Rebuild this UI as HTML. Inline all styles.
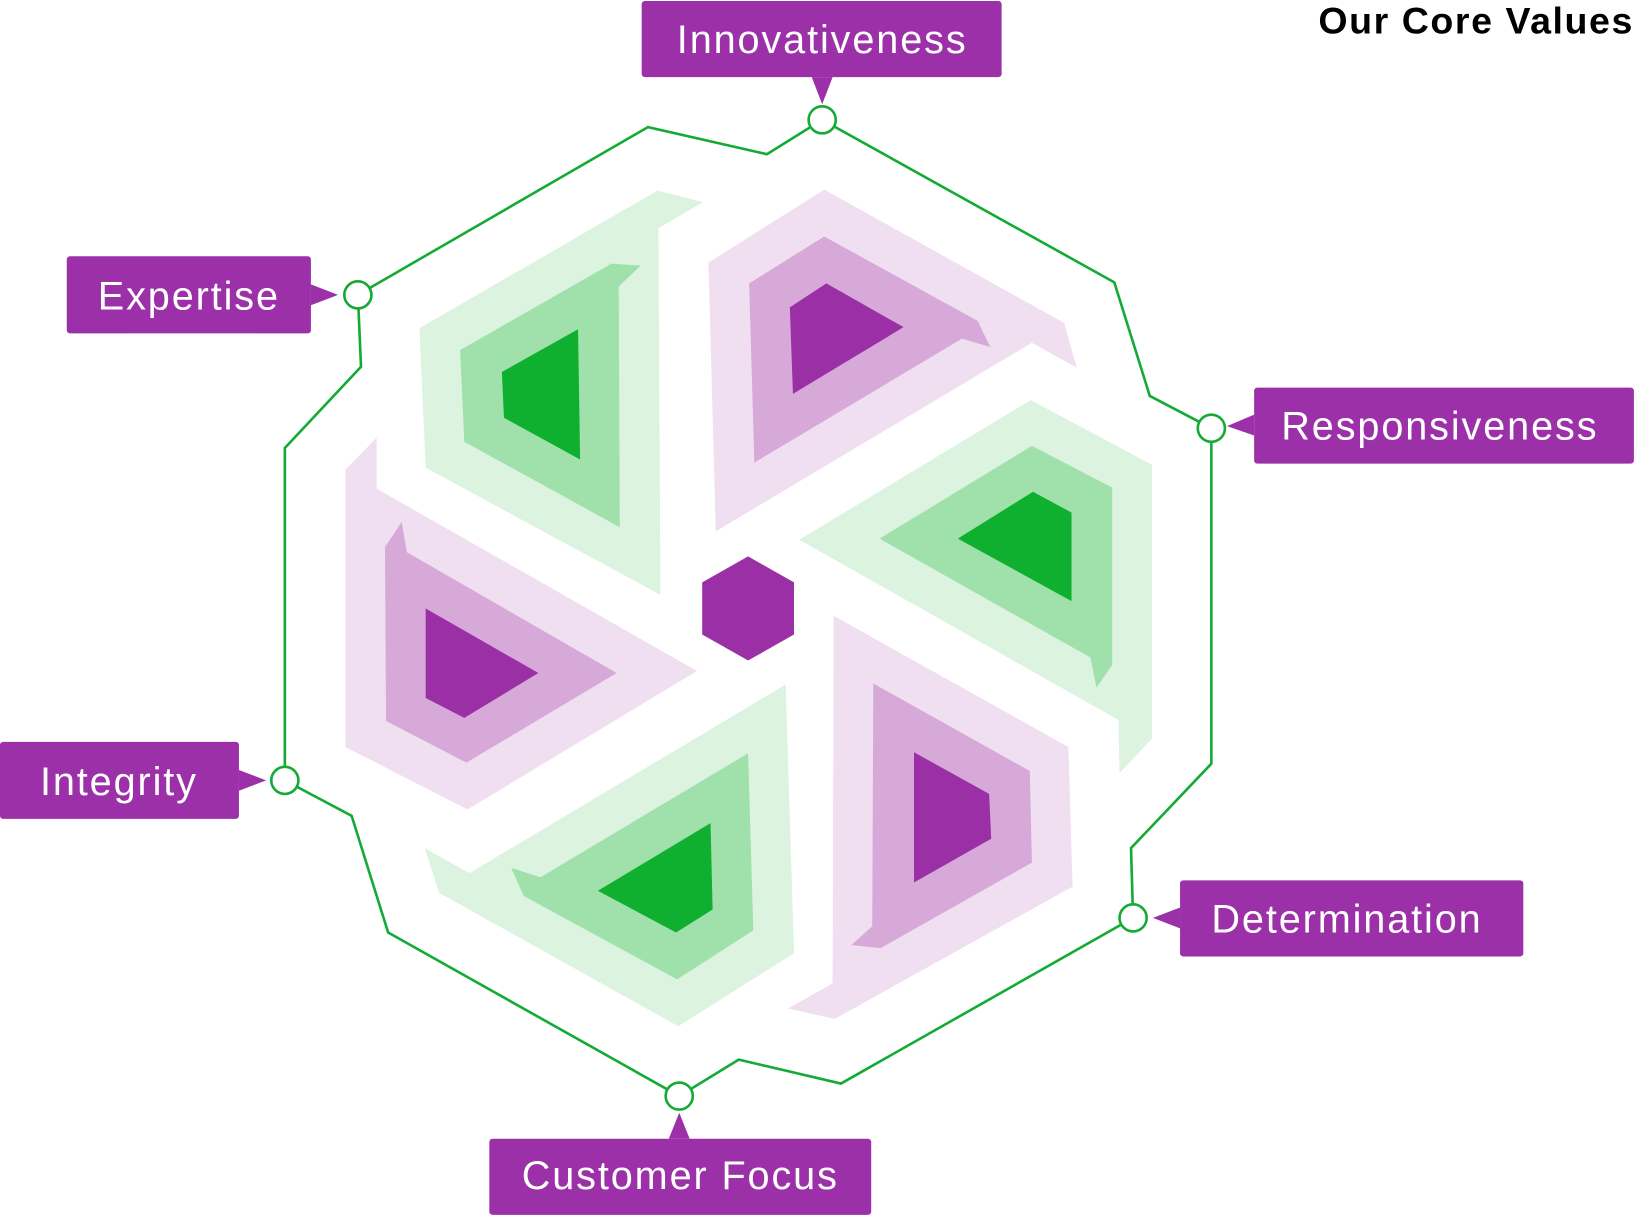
<!DOCTYPE html>
<html><head><meta charset="utf-8"><style>
html,body{margin:0;padding:0;background:#fff;}
svg{display:block;}
text{font-family:"Liberation Sans",sans-serif;}
</style></head><body>
<svg width="1636" height="1219" viewBox="0 0 1568 1170" preserveAspectRatio="none" xmlns="http://www.w3.org/2000/svg">
<rect width="1568" height="1170" fill="#fff"/>
<polygon points="630,183 674,194 631,219 633,571 408,449 402,315" fill="#dcf3e0"/>
<polygon points="586,253 614,255 593,275 594,506 445,424 441,336" fill="#a0e0aa"/>
<polygon points="554,316 556,441 483,401 481,357" fill="#0fb030"/>
<polygon points="679,252 790,182 1020,310 1032,353 989,329 686,510" fill="#f0dff0"/>
<polygon points="718,272 790,227 937,308 949,333 922,325 723,444" fill="#d6a9d8"/>
<polygon points="757,295 792,272 866,314 760,378" fill="#9b2fa6"/>
<polygon points="766,518 988,384 1104,446 1104,709 1073,742 1072,691" fill="#dcf3e0"/>
<polygon points="843,517 989,428 1066,468 1066,638 1051,660 1045,631" fill="#a0e0aa"/>
<polygon points="918,517 990,472 1027,492 1027,577" fill="#0fb030"/>
<polygon points="799,591 1024,717 1028,851 800,978 755,968 798,944" fill="#f0dff0"/>
<polygon points="837,656 987,740 989,828 844,910 816,907 836,889" fill="#d6a9d8"/>
<polygon points="876,722 948,762 950,805 876,847" fill="#9b2fa6"/>
<polygon points="753,657 761,915 650,985 421,857 407,814 450,838" fill="#dcf3e0"/>
<polygon points="717,723 722,893 649,940 502,860 490,833 518,842" fill="#a0e0aa"/>
<polygon points="681,790 683,873 648,895 573,855" fill="#0fb030"/>
<polygon points="361,420 361,469 668,644 448,777 331,717 331,451" fill="#f0dff0"/>
<polygon points="385,501 390,530 591,646 447,732 370,692 369,525" fill="#d6a9d8"/>
<polygon points="408,584 516,646 445,689 408,670" fill="#9b2fa6"/>
<polygon points="717,534 761,559 761,609 717,634 673,609 673,559" fill="#9b2fa6"/>
<polygon points="788,115 735,148 621,122 343,283 346,352 273,430 273,749 337,783 372,895 651,1052 708,1017 806,1040 1086,881 1084,814 1161,733 1161,411 1102,380 1068,271" fill="none" stroke="#14aa36" stroke-width="2.5"/>
<g fill="#9b30a8">
<rect x="615" y="1" width="345" height="73" rx="3"/><polygon points="778,74 798,74 788,100"/>
<rect x="64" y="246" width="234" height="74" rx="3"/><polygon points="298,273 298,293 324,283"/>
<rect x="1202" y="372" width="364" height="73" rx="3"/><polygon points="1202,398 1202,418 1176,409"/>
<rect x="0" y="712" width="229" height="74" rx="3"/><polygon points="229,739 229,759 255,749"/>
<rect x="1131" y="845" width="329" height="73" rx="3"/><polygon points="1131,871 1131,891 1105,881"/>
<rect x="469" y="1093" width="366" height="73" rx="3"/><polygon points="641,1093 661,1093 651,1068"/>
</g>
<g fill="#fff" stroke="#14aa36" stroke-width="2.5">
<circle cx="788" cy="115" r="13"/><circle cx="343" cy="283" r="13"/><circle cx="1161" cy="411" r="13"/>
<circle cx="273" cy="749" r="13"/><circle cx="1086" cy="881" r="13"/><circle cx="651" cy="1052" r="13"/>
</g>
<g fill="#fff" font-size="38" text-anchor="middle" letter-spacing="1.8">
<text x="788" y="51">Innovativeness</text>
<text x="181" y="297">Expertise</text>
<text x="1380" y="422">Responsiveness</text>
<text x="114" y="763">Integrity</text>
<text x="1291" y="895">Determination</text>
<text x="652" y="1141">Customer Focus</text>
</g>
<text x="1566" y="32" text-anchor="end" font-size="36" font-weight="bold" letter-spacing="1.5" fill="#000">Our Core Values</text>
</svg>
</body></html>
